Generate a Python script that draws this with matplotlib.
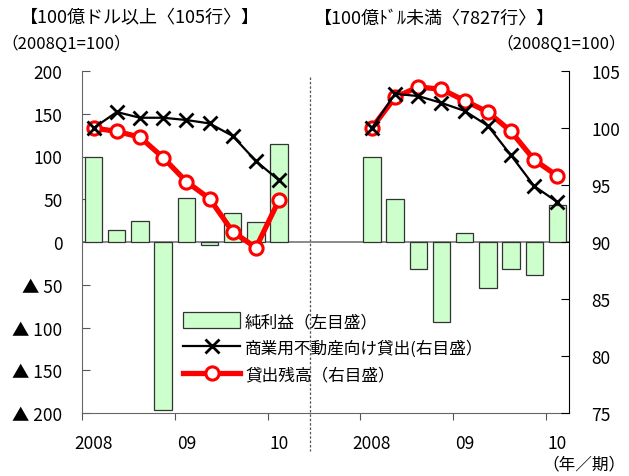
import matplotlib.pyplot as plt
import numpy as np
from matplotlib.lines import Line2D
from matplotlib.patches import Patch

plt.rcParams['font.family'] = ['Noto Sans CJK JP', 'DejaVu Sans']

# quarters 2008Q1 .. 2010Q1 for each bank group
quarters = ["2008Q1", "2008Q2", "2008Q3", "2008Q4", "2009Q1",
            "2009Q2", "2009Q3", "2009Q4", "2010Q1"]

# large banks (>= 10bn USD, 105 banks)
net_income_large = [100, 14, 25, -197, 51, -4, 34, 23, 115]
cre_loans_large = [100, 101.4, 100.9, 100.9, 100.7, 100.4, 99.3, 97.1, 95.4]
loan_bal_large = [100, 99.7, 99.2, 97.4, 95.3, 93.8, 90.9, 89.5, 93.7]

# small banks (< 10bn USD, 7827 banks)
net_income_small = [100, 50, -31, -94, 10.5, -54, -32, -39, 43]
cre_loans_small = [100, 103.0, 102.8, 102.2, 101.5, 100.2, 97.6, 94.9, 93.5]
loan_bal_small = [100, 102.7, 103.6, 103.4, 102.4, 101.4, 99.7, 97.2, 95.8]

left_ticks = [200, 150, 100, 50, 0, -50, -100, -150, -200]
right_ticks = [105, 100, 95, 90, 85, 80, 75]
year_labels = ["2008", "09", "10"]

W, H = 629, 477
fig = plt.figure(figsize=(W / 100, H / 100), dpi=100)
ax = fig.add_axes([82 / W, 1 - 414 / H, (569 - 82) / W, (414 - 72) / H])
ax2 = ax.twinx()

n = len(quarters)
x_large = np.arange(n) + 0.5
x_small = np.arange(n) + 12.5

bar_kw = dict(width=0.75, color="#ccffcc", edgecolor="#333333", linewidth=0.9, zorder=2)
ax.bar(x_large, net_income_large, **bar_kw)
ax.bar(x_small, net_income_small, **bar_kw)
ax.axhline(0, color="#777777", lw=1.2, zorder=1)

black_kw = dict(color="black", lw=1.6, marker="x", markersize=10, mew=2.0)
red_kw = dict(color="red", lw=3.8, marker="o", markersize=9.5,
              markerfacecolor="white", markeredgecolor="red", mew=2.2)
ax2.plot(x_large, loan_bal_large, **red_kw)
ax2.plot(x_large, cre_loans_large, **black_kw)
ax2.plot(x_small, loan_bal_small, **red_kw)
ax2.plot(x_small, cre_loans_small, **black_kw)

ax.set_xlim(0, 21)
ax.set_ylim(-200, 200)
ax2.set_ylim(75, 105)

ax.set_yticks(left_ticks)
ax.set_yticklabels([("▲ %d" % -v) if v < 0 else str(v) for v in left_ticks])
ax2.set_yticks(right_ticks)
ax.tick_params(axis="y", direction="in", length=6, pad=14, labelsize=12.5, color="#555555")
ax2.tick_params(axis="y", direction="in", length=6, pad=16, labelsize=12.5)

ax.set_xticks([0, 4, 8, 12, 16, 20])
ax.set_xticklabels([])
ax.set_xticks([0.5, 4.5, 8.5, 12.5, 16.5, 20.5], minor=True)
ax.set_xticklabels(year_labels * 2, minor=True)
ax.tick_params(axis="x", which="major", direction="out", length=5, color="#555555")
ax.tick_params(axis="x", which="minor", length=0, pad=15, labelsize=12.5)

for a in (ax, ax2):
    a.spines["top"].set_visible(False)
ax.spines["left"].set_color("#666666")
ax.spines["bottom"].set_color("#666666")
ax.spines["right"].set_visible(False)
ax2.spines["left"].set_visible(False)
ax2.spines["bottom"].set_visible(False)
ax2.spines["right"].set_color("black")

# dotted divider between the two bank groups
ax.plot([9.85, 9.85], [193, -244], color="#555555", lw=0.9, ls=(0, (2, 1.5)),
        clip_on=False, zorder=0)

handles = [
    Patch(facecolor="#ccffcc", edgecolor="#333333", linewidth=0.9),
    Line2D([], [], **black_kw),
    Line2D([], [], **red_kw),
]
labels = ["純利益（左目盛）", "商業用不動産向け貸出(右目盛）", "貸出残高（右目盛）"]
ax2.legend(handles, labels, loc="upper left", bbox_to_anchor=(175 / W, 1 - 305 / H),
           bbox_transform=fig.transFigure, frameon=False, fontsize=12,
           handlelength=3.4, handleheight=1.1, labelspacing=0.55, handletextpad=0.3,
           borderpad=0)

fig.text(20 / W, 1 - 18 / H, "【100億ドル以上〈105行〉】", fontsize=13, va="center", ha="left")
fig.text(1 / W, 1 - 44 / H, "（2008Q1=100）", fontsize=12, va="center", ha="left")
fig.text(314 / W, 1 - 18 / H, "【100億ﾄﾞﾙ未満〈7827行〉】", fontsize=13, va="center", ha="left")
fig.text(626 / W, 1 - 44 / H, "（2008Q1=100）", fontsize=12, va="center", ha="right")
fig.text(626 / W, 1 - 465 / H, "（年／期）", fontsize=12, va="center", ha="right")

fig.savefig("out.png", dpi=100, facecolor="white")
